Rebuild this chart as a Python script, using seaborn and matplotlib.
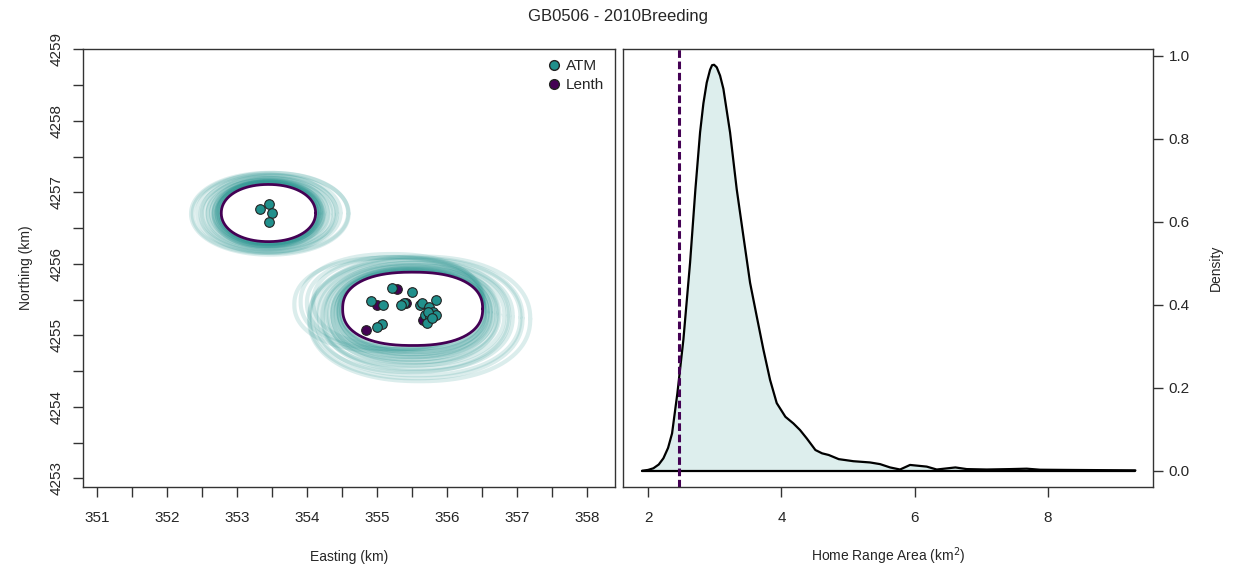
import numpy as np
import pandas as pd
import seaborn as sns
import matplotlib.pyplot as plt
from matplotlib.ticker import MultipleLocator
from matplotlib.lines import Line2D

sns.set_style("ticks")
plt.rcParams['font.family'] = ['Liberation Sans', 'DejaVu Sans']

teal = '#21908C'
purple = '#440154'

# locations (km)
atm_x = [353.33, 353.46, 353.50, 353.46,
         354.92, 355.08, 355.22, 355.50, 355.38, 355.34, 355.61, 355.64, 355.84,
         355.75, 355.80, 355.69, 355.76, 355.85, 355.71, 355.07, 355.00, 355.73, 355.79]
atm_y = [4256.76, 4256.83, 4256.71, 4256.58,
         4255.48, 4255.43, 4255.66, 4255.60, 4255.45, 4255.43, 4255.42, 4255.45, 4255.50,
         4255.40, 4255.33, 4255.28, 4255.26, 4255.28, 4255.17, 4255.16, 4255.12, 4255.32, 4255.24]
lenth_x = [355.00, 355.28, 355.42, 355.66, 354.84]
lenth_y = [4255.43, 4255.65, 4255.45, 4255.21, 4255.07]

# home range patches: centre, half axes (km), squareness
patch_cx = [353.45, 355.51]
patch_cy = [4256.71, 4255.37]
patch_rx = [0.674, 1.00]
patch_ry = [0.40, 0.513]
patch_p = [2.1, 2.35]

# bootstrap contours, relative to each patch
ring1_sx = [1.02, 1.03, 1.04, 1.05, 1.06, 1.07, 1.08, 1.09, 1.10, 1.11, 1.12, 1.14,
            1.16, 1.18, 1.20, 1.23, 1.27, 1.31, 1.36, 1.41, 1.47, 1.53, 1.60, 1.67]
ring1_sy = [1.03, 1.04, 1.05, 1.06, 1.07, 1.08, 1.09, 1.10, 1.10, 1.11, 1.12, 1.14,
            1.15, 1.17, 1.18, 1.20, 1.22, 1.25, 1.28, 1.31, 1.34, 1.37, 1.40, 1.43]
ring1_dx = [0, 0.01, -0.01, 0.02, -0.02, 0, 0.01, -0.02, 0.02, 0, -0.03, 0.03,
            0, -0.02, 0.03, -0.04, 0.04, -0.03, 0.05, -0.02, 0.04, -0.05, 0.06, 0.02]
ring1_dy = [0, -0.01, 0.01, 0, -0.01, 0.01, 0, -0.02, 0.01, 0, -0.01, 0.01,
            -0.02, 0, 0.01, -0.02, 0, -0.01, 0.01, -0.02, 0, -0.01, 0, -0.01]

ring2_sx = [1.02, 1.03, 1.04, 1.05, 1.06, 1.07, 1.08, 1.10, 1.11, 1.13, 1.15, 1.17,
            1.19, 1.22, 1.25, 1.28, 1.32, 1.36, 1.41, 1.46, 1.52, 1.58, 1.30, 1.26, 1.34, 1.22]
ring2_sy = [1.05, 1.07, 1.08, 1.10, 1.12, 1.14, 1.16, 1.18, 1.20, 1.22, 1.25, 1.27,
            1.30, 1.33, 1.36, 1.40, 1.44, 1.48, 1.53, 1.58, 1.64, 1.70, 1.30, 1.25, 1.28, 1.22]
ring2_dx = [0, 0.01, -0.02, 0.02, 0, -0.03, 0.03, 0.01, -0.04, 0.04, 0, -0.05,
            0.05, -0.02, 0.06, -0.06, 0.04, 0.07, -0.03, 0.08, 0.05, 0.10, -0.30, -0.25, -0.35, -0.20]
ring2_dy = [-0.02, -0.03, -0.02, -0.04, -0.03, -0.05, -0.04, -0.05, -0.06, -0.05, -0.07, -0.06,
            -0.08, -0.07, -0.09, -0.08, -0.10, -0.11, -0.10, -0.12, -0.13, -0.14, 0.10, 0.08, 0.06, 0.10]

rings = [(ring1_sx, ring1_sy, ring1_dx, ring1_dy), (ring2_sx, ring2_sy, ring2_dx, ring2_dy)]

# density of bootstrapped home range area
dens_x = [1.91, 2.00, 2.08, 2.16, 2.23, 2.30, 2.36, 2.44, 2.53, 2.63, 2.71, 2.78, 2.83, 2.88,
          2.93, 2.96, 2.99, 3.03, 3.08, 3.13, 3.23, 3.33, 3.43, 3.53, 3.63, 3.73, 3.83, 3.93,
          4.06, 4.18, 4.28, 4.38, 4.51, 4.61, 4.71, 4.86, 5.08, 5.33, 5.48, 5.63, 5.78, 5.93,
          6.18, 6.33, 6.61, 6.78, 7.08, 7.43, 7.68, 7.88, 8.28, 8.78, 9.31]
dens_y = [0.0, 0.002, 0.006, 0.015, 0.030, 0.055, 0.09, 0.187, 0.316, 0.501, 0.678, 0.815,
          0.885, 0.935, 0.966, 0.977, 0.978, 0.972, 0.952, 0.92, 0.815, 0.678, 0.565, 0.453,
          0.372, 0.292, 0.219, 0.163, 0.130, 0.114, 0.098, 0.078, 0.050, 0.042, 0.038, 0.028,
          0.023, 0.020, 0.016, 0.008, 0.003, 0.014, 0.010, 0.003, 0.008, 0.004, 0.003, 0.004,
          0.005, 0.0025, 0.002, 0.0015, 0.001]
observed_area = 2.465

easting_ticks = [351, 352, 353, 354, 355, 356, 357, 358]
northing_ticks = [4253, 4254, 4255, 4256, 4257, 4258, 4259]
area_ticks = [2, 4, 6, 8]
density_ticks = [0.0, 0.2, 0.4, 0.6, 0.8, 1.0]


def outline(cx, cy, rx, ry, p, n=240):
    t = np.linspace(0, 2 * np.pi, n)
    c, s = np.cos(t), np.sin(t)
    x = cx + rx * np.sign(c) * np.abs(c) ** (2 / p)
    y = cy + ry * np.sign(s) * np.abs(s) ** (2 / p)
    return x, y


fig = plt.figure(figsize=(12.41, 5.71), dpi=100)
ax1 = fig.add_axes([0.0666, 0.1466, 0.4287, 0.7683])
ax2 = fig.add_axes([0.5018, 0.1472, 0.4276, 0.7677])

# left: map of locations
for i in range(2):
    sx, sy, dx, dy = rings[i]
    for j in range(len(sx)):
        x, y = outline(patch_cx[i] + dx[j], patch_cy[i] + dy[j],
                       patch_rx[i] * sx[j], patch_ry[i] * sy[j], 2.0 + (patch_p[i] - 2.0) * 0.6)
        ax1.plot(x, y, color=teal, alpha=0.16, lw=3.0, zorder=1)
for i in range(2):
    x, y = outline(patch_cx[i], patch_cy[i], patch_rx[i], patch_ry[i], patch_p[i])
    ax1.fill(x, y, color='white', zorder=2)
    ax1.plot(x, y, color=purple, lw=2.0, zorder=3)

sns.scatterplot(x=lenth_x, y=lenth_y, ax=ax1, color=purple, edgecolor='#222222',
                linewidth=0.8, s=48, zorder=4)
sns.scatterplot(x=atm_x, y=atm_y, ax=ax1, color=teal, edgecolor='#222222',
                linewidth=0.8, s=48, zorder=5)

handles = [Line2D([], [], marker='o', ls='', color=teal, markeredgecolor='#222222',
                  markersize=7, label='ATM'),
           Line2D([], [], marker='o', ls='', color=purple, markeredgecolor='#222222',
                  markersize=7, label='Lenth')]
ax1.legend(handles=handles, loc='upper right', frameon=False, fontsize=11,
           handletextpad=0.2, borderaxespad=0.3, labelspacing=0.3, handlelength=1.2)

ax1.set_xlim(350.796, 358.396)
ax1.set_ylim(4252.874, 4259.01)
ax1.set_xticks(easting_ticks)
ax1.set_yticks(northing_ticks)
ax1.xaxis.set_minor_locator(MultipleLocator(0.5))
ax1.yaxis.set_minor_locator(MultipleLocator(0.5))
ax1.tick_params(axis='both', which='both', length=7, width=1, color='#333333', labelsize=11)
ax1.tick_params(axis='x', pad=10)
ax1.tick_params(axis='y', pad=7)
for lab in ax1.get_yticklabels():
    lab.set_rotation(90)
    lab.set_va('center')
ax1.set_xlabel('Easting (km)', fontsize=10, labelpad=18)
ax1.set_ylabel('Northing (km)', fontsize=10, labelpad=12)

# right: density of home range area
df = pd.DataFrame({'area': dens_x, 'density': dens_y})
ax2.fill_between(df['area'], df['density'], 0, color=teal, alpha=0.15, lw=0)
sns.lineplot(data=df, x='area', y='density', ax=ax2, color='black', lw=1.6, sort=False)
ax2.plot([dens_x[0], dens_x[-1]], [0, 0], color='black', lw=1.6)
ax2.axvline(observed_area, color=purple, lw=2.2, ls=(0, (2.5, 1.2)))

ax2.set_xlim(1.62, 9.58)
ax2.set_ylim(-0.039, 1.017)
ax2.set_xticks(area_ticks)
ax2.set_yticks(density_ticks)
ax2.set_yticklabels([f'{v:.1f}' for v in density_ticks])
ax2.yaxis.tick_right()
ax2.yaxis.set_label_position('right')
ax2.tick_params(axis='both', length=7, width=1, color='#333333', labelsize=11)
ax2.tick_params(axis='x', pad=10)
ax2.tick_params(axis='y', pad=4)
ax2.set_xlabel('Home Range Area (km$^2$)', fontsize=10, labelpad=15)
ax2.set_ylabel('Density', fontsize=10, labelpad=14)

for ax in (ax1, ax2):
    for sp in ax.spines.values():
        sp.set_visible(True)
        sp.set_color('#333333')
        sp.set_linewidth(1.0)

fig.suptitle('GB0506 - 2010Breeding', x=0.498, y=0.985, fontsize=12)

fig.savefig('out.png', dpi=100)
